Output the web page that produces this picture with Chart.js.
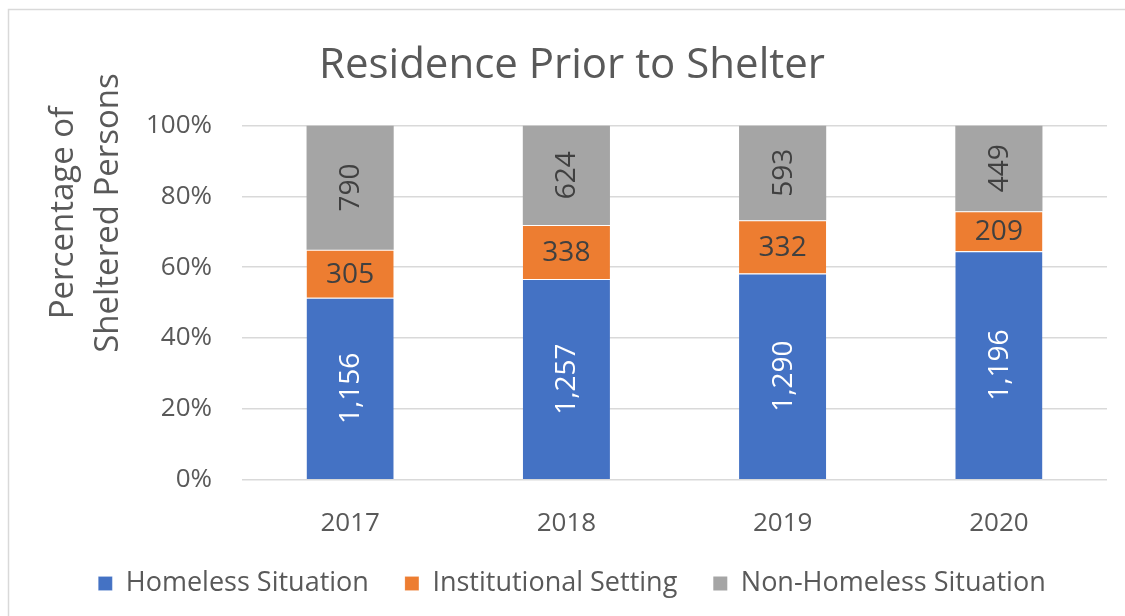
<!DOCTYPE html>
<html>
<head>
<meta charset="utf-8">
<script src="https://cdn.jsdelivr.net/npm/chart.js@4"></script>
<style>
    html, body { margin: 0; padding: 0; background: #fff; }
    canvas { display: block; }
</style>
</head>
<body>
<canvas id="grafico" width="1125" height="616"></canvas>
<script>
const anos = ['2017', '2018', '2019', '2020']
const semTeto = [1156, 1257, 1290, 1196]
const institucional = [305, 338, 332, 209]
const naoSemTeto = [790, 624, 593, 449]
const ticksY = [0, 0.2, 0.4, 0.6, 0.8, 1]
const tituloY = ['Percentage of', 'Sheltered Persons']

const fonte = "'Open Sans', sans-serif"
const cinzaTexto = '#595959'

// totais por ano, para o grafico de 100%
let totais = anos.map((a, i) => semTeto[i] + institucional[i] + naoSemTeto[i])
function pct(valores) {
    return valores.map((v, i) => v / totais[i])
}

// desenha os numeros dentro das barras
const rotulos = {
    id: 'rotulos',
    afterDatasetsDraw(chart) {
        const ctx = chart.ctx
        chart.data.datasets.forEach((ds, d) => {
            const meta = chart.getDatasetMeta(d)
            meta.data.forEach((barra, i) => {
                const texto = ds.contagens[i].toLocaleString('en-US')
                const y = (barra.y + barra.base) / 2
                ctx.save()
                ctx.font = '28px ' + fonte
                ctx.fillStyle = ds.corRotulo
                ctx.textAlign = 'center'
                ctx.textBaseline = 'middle'
                ctx.translate(barra.x, y)
                if (ds.vertical) ctx.rotate(-Math.PI / 2)
                ctx.fillText(texto, 0, 1)
                ctx.restore()
            })
        })
    }
}

// fundo, borda e titulo do eixo y
const moldura = {
    id: 'moldura',
    beforeDraw(chart) {
        const ctx = chart.ctx
        ctx.save()
        ctx.fillStyle = '#fff'
        ctx.fillRect(0, 0, chart.width, chart.height)
        ctx.strokeStyle = '#D9D9D9'
        ctx.lineWidth = 1.5
        ctx.strokeRect(8.5, 9.5, chart.width + 10, chart.height + 10)
        ctx.restore()
    },
    afterDraw(chart) {
        const ctx = chart.ctx
        ctx.save()
        ctx.font = '33px ' + fonte
        ctx.fillStyle = cinzaTexto
        ctx.textAlign = 'center'
        ctx.textBaseline = 'middle'
        ctx.translate(0, 213)
        ctx.rotate(-Math.PI / 2)
        ctx.fillText(tituloY[0], 0, 64)
        ctx.fillText(tituloY[1], 0, 109)
        ctx.restore()
    }
}

new Chart(document.getElementById('grafico'), {
    type: 'bar',
    data: {
        labels: anos,
        datasets: [{
            label: 'Homeless Situation',
            data: pct(semTeto),
            contagens: semTeto,
            backgroundColor: '#4472C4',
            corRotulo: '#ffffff',
            vertical: true
        }, {
            label: 'Institutional Setting',
            data: pct(institucional),
            contagens: institucional,
            backgroundColor: '#ED7D31',
            corRotulo: '#404040',
            vertical: false
        }, {
            label: 'Non-Homeless Situation',
            data: pct(naoSemTeto),
            contagens: naoSemTeto,
            backgroundColor: '#A5A5A5',
            borderWidth: 0,
            corRotulo: '#404040',
            vertical: true
        }]
    },
    options: {
        responsive: false,
        devicePixelRatio: 1,
        animation: false,
        datasets: {
            bar: {
                categoryPercentage: 1,
                barPercentage: 0.403,
                borderWidth: { top: 1 },
                borderColor: 'rgba(255,255,255,0.6)'
            }
        },
        layout: {
            padding: { left: 37, right: 18, top: 0, bottom: 9 }
        },
        scales: {
            x: {
                stacked: true,
                grid: { display: false },
                border: { display: false },
                afterFit(escala) {
                    escala.height = escala.height - 25
                },
                ticks: {
                    color: cinzaTexto,
                    font: { family: fonte, size: 26 },
                    padding: 20
                }
            },
            y: {
                stacked: true,
                min: 0,
                max: 1,
                afterBuildTicks(escala) {
                    escala.ticks = ticksY.map(v => ({ value: v }))
                },
                afterFit(escala) {
                    escala.width = 205
                },
                grid: {
                    color: '#D9D9D9',
                    lineWidth: 1.5,
                    drawTicks: false
                },
                border: { display: false },
                ticks: {
                    color: cinzaTexto,
                    font: { family: fonte, size: 26 },
                    padding: 30,
                    callback: v => Math.round(v * 100) + '%'
                }
            }
        },
        plugins: {
            title: {
                display: true,
                text: 'Residence Prior to Shelter',
                color: cinzaTexto,
                font: { family: fonte, size: 42, weight: 'normal' },
                padding: { top: 41, bottom: 34 }
            },
            legend: {
                position: 'bottom',
                labels: {
                    color: cinzaTexto,
                    font: { family: fonte, size: 27 },
                    boxWidth: 14,
                    boxHeight: 14,
                    padding: 36
                }
            },
            tooltip: { enabled: false }
        }
    },
    plugins: [moldura, rotulos]
})
</script>
</body>
</html>
